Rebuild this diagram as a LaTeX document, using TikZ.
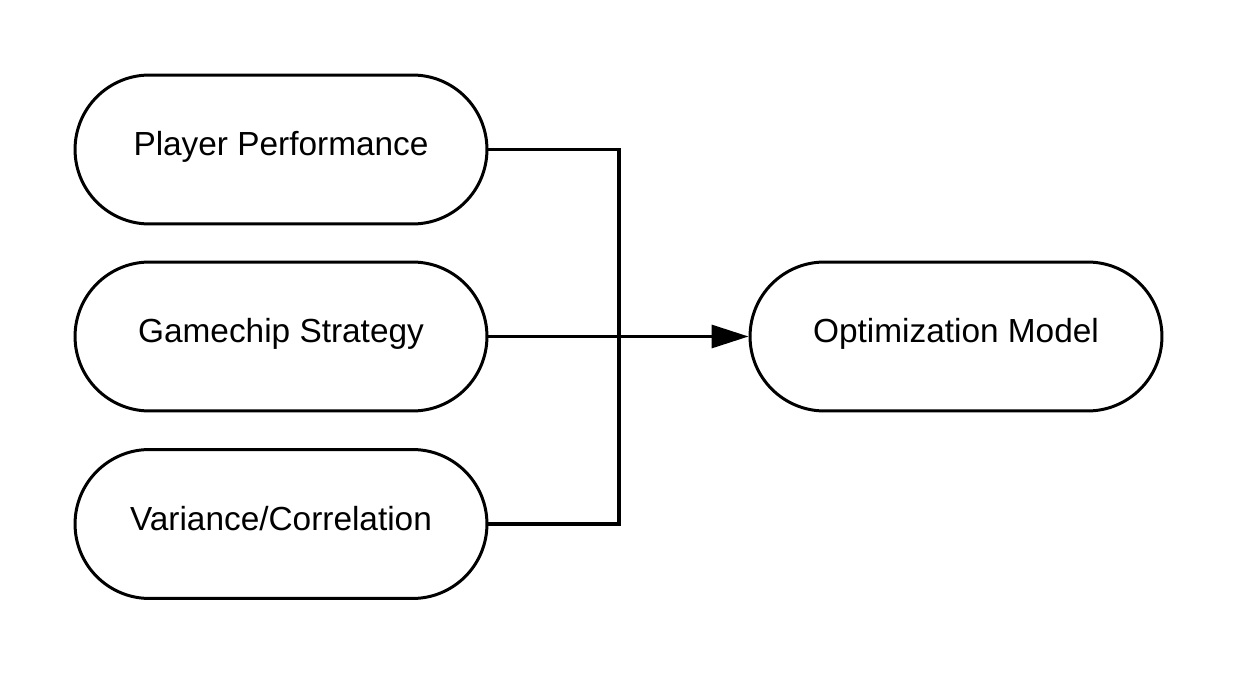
\documentclass[tikz,border=0pt]{standalone}
\usepackage{fontspec}
\setmainfont{Liberation Sans}
\usetikzlibrary{arrows.meta}

\begin{document}
\begin{tikzpicture}[
  x=0.02cm, y=-0.02cm,
  factor/.style={draw, line width=0.06cm, rounded corners=1.49cm,
                 minimum width=8.24cm, minimum height=2.98cm,
                 font=\fontsize{19}{23}\selectfont,
                 text height=0.716em, text depth=0em},
  link/.style={line width=0.065cm},
  arrow/.style={link, -{Triangle[length=0.74cm, width=0.46cm]}},
]
\useasboundingbox (0,0) rectangle (1238,675);

% --- Inputs ---
\node[factor] (perf) at (281, 149.5) {Player Performance};
\node[factor] (chip) at (281, 336.5) {Gamechip Strategy};
\node[factor] (corr) at (281, 524) {Variance/Correlation};

% --- Output ---
\node[factor] (model) at (956, 336.5) {Optimization Model};

% Bracket joining the outer inputs
\coordinate (merge) at (619, 336.5);
\draw[link] (perf.east) -| (merge) |- (corr.east);

% Arrow
\draw[arrow] (chip.east) -- (model.west);
\end{tikzpicture}
\end{document}
